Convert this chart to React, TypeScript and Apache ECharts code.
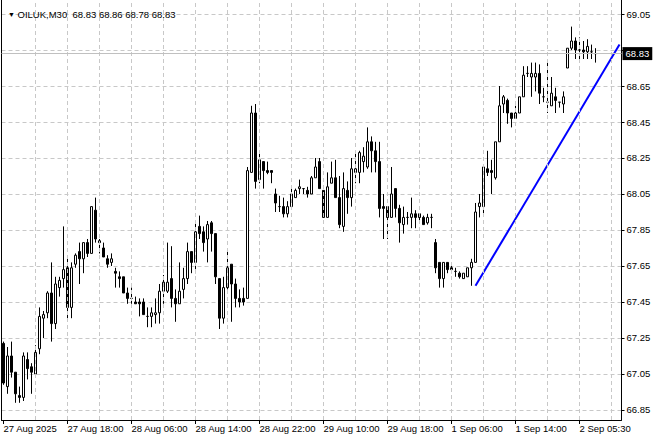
import React, { useEffect, useRef } from "react";
import * as echarts from "echarts";

const symbolName = "OILUK,M30";
const timeLabels = [
  "27 Aug 2025", "27 Aug 18:00", "28 Aug 06:00", "28 Aug 14:00", "28 Aug 22:00",
  "29 Aug 10:00", "29 Aug 18:00", "1 Sep 06:00", "1 Sep 14:00", "2 Sep 05:30",
];
const labelEvery = 16;
const gridEvery = 8;
const slotCount = 155;

const open = [
  67.22, 66.98, 67.15, 67.06, 66.93, 66.92, 67.13, 67.09, 67.05, 67.19,
  67.36, 67.39, 67.50, 67.33, 67.53, 67.58, 67.64, 67.42, 67.66, 67.73,
  67.69, 67.78, 67.72, 67.96, 67.79, 67.75, 67.69, 67.67, 67.62, 67.59,
  67.59, 67.50, 67.47, 67.45, 67.45, 67.45, 67.37, 67.37, 67.38, 67.39,
  67.51, 67.51, 67.58, 67.47, 67.44, 67.52, 67.58, 67.73, 67.67, 67.87,
  67.84, 67.80, 67.89, 67.83, 67.58, 67.36, 67.53, 67.66, 67.55, 67.47,
  67.47, 67.47, 68.17, 68.50, 68.13, 68.23, 68.18, 68.18, 68.05, 67.98,
  67.98, 67.94, 67.98, 68.03, 68.08, 68.08, 68.07, 68.05, 68.14, 68.23,
  68.07, 67.92, 68.11, 68.14, 68.03, 67.87, 68.07, 68.03, 68.17, 68.17,
  68.23, 68.20, 68.34, 68.29, 68.23, 67.98, 67.98, 67.92, 68.08, 67.97,
  67.88, 67.92, 67.92, 67.94, 67.94, 67.92, 67.89, 67.92, 67.78, 67.67,
  67.58, 67.67, 67.64, 67.62, 67.61, 67.58, 67.59, 67.64, 67.67, 67.98,
  67.98, 68.19, 68.18, 68.14, 68.34, 68.55, 68.57, 68.50, 68.47, 68.50,
  68.59, 68.72, 68.70, 68.70, 68.72, 68.59, 68.56, 68.54, 68.59, 68.56,
  68.55, 68.75, 68.86, 68.90, 68.85, 68.85, 68.84, 68.84, 68.83,
];
const close = [
  67.00, 67.15, 67.06, 66.94, 66.92, 67.15, 67.08, 67.06, 67.17, 67.37,
  67.38, 67.50, 67.33, 67.55, 67.57, 67.63, 67.42, 67.64, 67.71, 67.69,
  67.78, 67.72, 67.98, 67.80, 67.78, 67.70, 67.66, 67.69, 67.61, 67.58,
  67.50, 67.47, 67.47, 67.44, 67.44, 67.38, 67.37, 67.39, 67.39, 67.51,
  67.56, 67.56, 67.47, 67.44, 67.51, 67.58, 67.73, 67.67, 67.84, 67.83,
  67.78, 67.88, 67.83, 67.59, 67.36, 67.53, 67.64, 67.55, 67.47, 67.45,
  67.45, 68.18, 68.50, 68.12, 68.24, 68.18, 68.17, 68.17, 68.00, 67.98,
  67.94, 67.98, 68.05, 68.07, 68.09, 68.08, 68.05, 68.14, 68.20, 68.08,
  67.92, 68.09, 68.14, 68.03, 67.88, 68.08, 68.03, 68.19, 68.19, 68.28,
  68.26, 68.34, 68.29, 68.23, 67.97, 67.97, 67.92, 68.05, 67.97, 67.89,
  67.92, 67.92, 67.94, 67.92, 67.92, 67.88, 67.92, 67.92, 67.64, 67.58,
  67.67, 67.63, 67.63, 67.62, 67.59, 67.61, 67.64, 67.67, 67.95, 68.00,
  68.20, 68.17, 68.17, 68.34, 68.54, 68.59, 68.50, 68.47, 68.50, 68.59,
  68.71, 68.72, 68.72, 68.72, 68.61, 68.59, 68.56, 68.61, 68.57, 68.56,
  68.59, 68.86, 68.90, 68.85, 68.85, 68.84, 68.87, 68.84, 68.83,
];
const low = [
  66.99, 66.94, 67.03, 66.89, 66.89, 66.90, 67.02, 66.94, 67.05, 67.16,
  67.25, 67.36, 67.23, 67.30, 67.48, 67.53, 67.34, 67.36, 67.64, 67.55,
  67.61, 67.70, 67.72, 67.78, 67.72, 67.70, 67.64, 67.65, 67.53, 67.53,
  67.50, 67.44, 67.44, 67.44, 67.37, 67.38, 67.31, 67.31, 67.33, 67.33,
  67.44, 67.50, 67.42, 67.34, 67.44, 67.47, 67.55, 67.61, 67.61, 67.80,
  67.73, 67.67, 67.73, 67.55, 67.30, 67.33, 67.52, 67.34, 67.42, 67.42,
  67.43, 67.47, 68.17, 68.08, 68.11, 68.08, 68.16, 68.11, 67.95, 67.95,
  67.92, 67.92, 67.98, 68.03, 68.05, 68.05, 68.03, 68.05, 68.14, 68.08,
  67.92, 67.92, 68.11, 68.03, 67.86, 67.84, 67.94, 67.98, 68.11, 68.11,
  68.17, 68.19, 68.17, 68.17, 67.92, 67.80, 67.80, 67.92, 67.92, 67.78,
  67.83, 67.88, 67.86, 67.86, 67.90, 67.88, 67.88, 67.86, 67.61, 67.53,
  67.53, 67.61, 67.61, 67.59, 67.58, 67.58, 67.59, 67.54, 67.67, 67.92,
  67.94, 68.15, 68.05, 68.13, 68.34, 68.50, 68.44, 68.42, 68.47, 68.50,
  68.59, 68.70, 68.59, 68.62, 68.55, 68.56, 68.50, 68.54, 68.50, 68.53,
  68.50, 68.75, 68.85, 68.80, 68.80, 68.80, 68.80, 68.80, 68.78,
];
const high = [
  67.23, 67.20, 67.23, 67.06, 66.98, 67.17, 67.17, 67.11, 67.21, 67.42,
  67.40, 67.51, 67.67, 67.59, 67.59, 67.87, 67.69, 67.67, 67.72, 67.78,
  67.78, 67.80, 67.98, 68.03, 67.80, 67.78, 67.71, 67.72, 67.64, 67.62,
  67.59, 67.53, 67.53, 67.48, 67.47, 67.47, 67.42, 67.42, 67.47, 67.55,
  67.60, 67.78, 67.76, 67.52, 67.67, 67.64, 67.78, 67.73, 67.90, 67.93,
  67.87, 67.90, 67.90, 67.83, 67.58, 67.59, 67.73, 67.66, 67.58, 67.52,
  67.53, 68.20, 68.54, 68.55, 68.29, 68.23, 68.23, 68.18, 68.08, 68.04,
  68.03, 68.01, 68.08, 68.08, 68.13, 68.08, 68.09, 68.15, 68.25, 68.25,
  68.07, 68.17, 68.23, 68.24, 68.15, 68.17, 68.12, 68.25, 68.28, 68.29,
  68.31, 68.42, 68.37, 68.34, 68.34, 68.05, 67.98, 68.20, 68.08, 67.99,
  67.98, 67.95, 68.03, 67.96, 67.94, 67.93, 67.94, 67.94, 67.80, 67.67,
  67.67, 67.67, 67.66, 67.64, 67.62, 67.61, 67.64, 67.69, 68.00, 68.05,
  68.20, 68.29, 68.24, 68.34, 68.65, 68.60, 68.58, 68.50, 68.54, 68.59,
  68.76, 68.76, 68.78, 68.78, 68.77, 68.64, 68.78, 68.70, 68.64, 68.56,
  68.62, 68.86, 68.98, 68.92, 68.92, 68.90, 68.91, 68.88, 68.86,
];

const yTicks = [69.05, 68.85, 68.65, 68.45, 68.25, 68.05, 67.85, 67.65, 67.45, 67.25, 67.05, 66.85];
const yMin = 66.7944;
const yMax = 69.1278;
const bidPrice = 68.83;
const trendLine: [string, number][] = [["118", 67.54], ["154", 68.88]];

const FONT = "Liberation Sans";
const GRID_COLOR = "#c8c8c8";

export default function App() {
  const ref = useRef<HTMLDivElement>(null);

  useEffect(() => {
    const chart = echarts.init(ref.current!, null, { renderer: "svg" });
    const categories = Array.from({ length: slotCount }, (_, i) => String(i));
    const candles = open.map((o, i) => [o, close[i], low[i], high[i]]);
    const last = candles.length - 1;
    const vLines = [];
    for (let i = gridEvery; i < slotCount; i += gridEvery) vLines.push({ xAxis: String(i) });
    const showAt = (i: number) => i % labelEvery === 0 && i / labelEvery < timeLabels.length;
    // the bid-price box covers the tick label nearest to it, as in the terminal
    const labelTicks = yTicks.filter((v) => Math.abs(v - bidPrice) > 0.05);

    chart.setOption({
      animation: false,
      backgroundColor: "#ffffff",
      textStyle: { fontFamily: FONT },
      title: {
        text: `{t|▼} ${symbolName}  ${open[last].toFixed(2)} ${high[last].toFixed(2)} ${low[last].toFixed(2)} ${close[last].toFixed(2)}`,
        left: 3,
        top: 4,
        textStyle: {
          fontFamily: FONT,
          fontSize: 9.5,
          fontWeight: "normal",
          color: "#000",
          rich: { t: { fontSize: 7, color: "#000", fontFamily: FONT } },
        },
      },
      grid: { left: 1.5, top: 0, width: 620, height: 420, containLabel: false },
      xAxis: {
        type: "category",
        data: categories,
        boundaryGap: true,
        axisLine: { show: true, lineStyle: { color: "#000", width: 1 } },
        axisTick: {
          show: true,
          alignWithLabel: true,
          length: 4,
          interval: (i: number) => showAt(i),
          lineStyle: { color: "#000" },
        },
        axisLabel: {
          show: true,
          interval: (i: number) => showAt(i),
          formatter: (v: string) => timeLabels[Number(v) / labelEvery] ?? "",
          align: "left",
          margin: 3,
          fontSize: 9.5,
          color: "#000",
          fontFamily: FONT,
        },
        splitLine: { show: false },
      },
      yAxis: [
        {
          type: "value",
          position: "right",
          min: yMin,
          max: yMax,
          axisLine: { show: true, lineStyle: { color: "#000", width: 1 } },
          axisTick: { show: true, length: 3, customValues: yTicks, lineStyle: { color: "#000" } },
          axisLabel: {
            show: true,
            customValues: labelTicks,
            formatter: (v: number) => v.toFixed(2),
            margin: 5,
            fontSize: 9.5,
            color: "#000",
            fontFamily: FONT,
          },
          splitLine: { show: true, lineStyle: { color: GRID_COLOR, type: [4, 3], width: 1 } },
        },
        {
          type: "value",
          position: "left",
          min: yMin,
          max: yMax,
          axisLine: { show: true, onZero: false, lineStyle: { color: "#000", width: 1 } },
          axisTick: { show: false },
          axisLabel: { show: false },
          splitLine: { show: false },
        },
      ],
      series: [
        {
          type: "line",
          name: "grid",
          data: [],
          silent: true,
          z: 1,
          markLine: {
            silent: true,
            symbol: ["none", "none"],
            label: { show: false },
            lineStyle: { color: GRID_COLOR, type: [4, 3], width: 1 },
            emphasis: { disabled: true },
            data: vLines,
          },
        },
        {
          type: "candlestick",
          name: symbolName,
          data: candles,
          barWidth: 2,
          z: 3,
          itemStyle: {
            color: "#ffffff",
            color0: "#000000",
            borderColor: "#000000",
            borderColor0: "#000000",
            borderWidth: 1,
          },
          emphasis: { disabled: true },
          markLine: {
            silent: true,
            symbol: ["none", "none"],
            emphasis: { disabled: true },
            data: [
              {
                yAxis: bidPrice,
                lineStyle: { color: "#c0c0c0", type: "solid", width: 1 },
                label: {
                  show: true,
                  position: "end",
                  distance: 1,
                  formatter: bidPrice.toFixed(2),
                  backgroundColor: "#000",
                  color: "#fff",
                  padding: [2, 3, 1, 3],
                  fontSize: 9.5,
                  fontFamily: FONT,
                },
              },
            ],
          },
        },
        {
          type: "line",
          name: "trend",
          data: trendLine,
          showSymbol: false,
          symbol: "none",
          connectNulls: true,
          z: 4,
          lineStyle: { color: "#0000ff", width: 2 },
          emphasis: { disabled: true },
        },
      ],
    });
    return () => chart.dispose();
  }, []);

  return (
    <div
      ref={ref}
      style={{ position: "fixed", left: 0, top: 0, width: 660, height: 440 }}
    />
  );
}
